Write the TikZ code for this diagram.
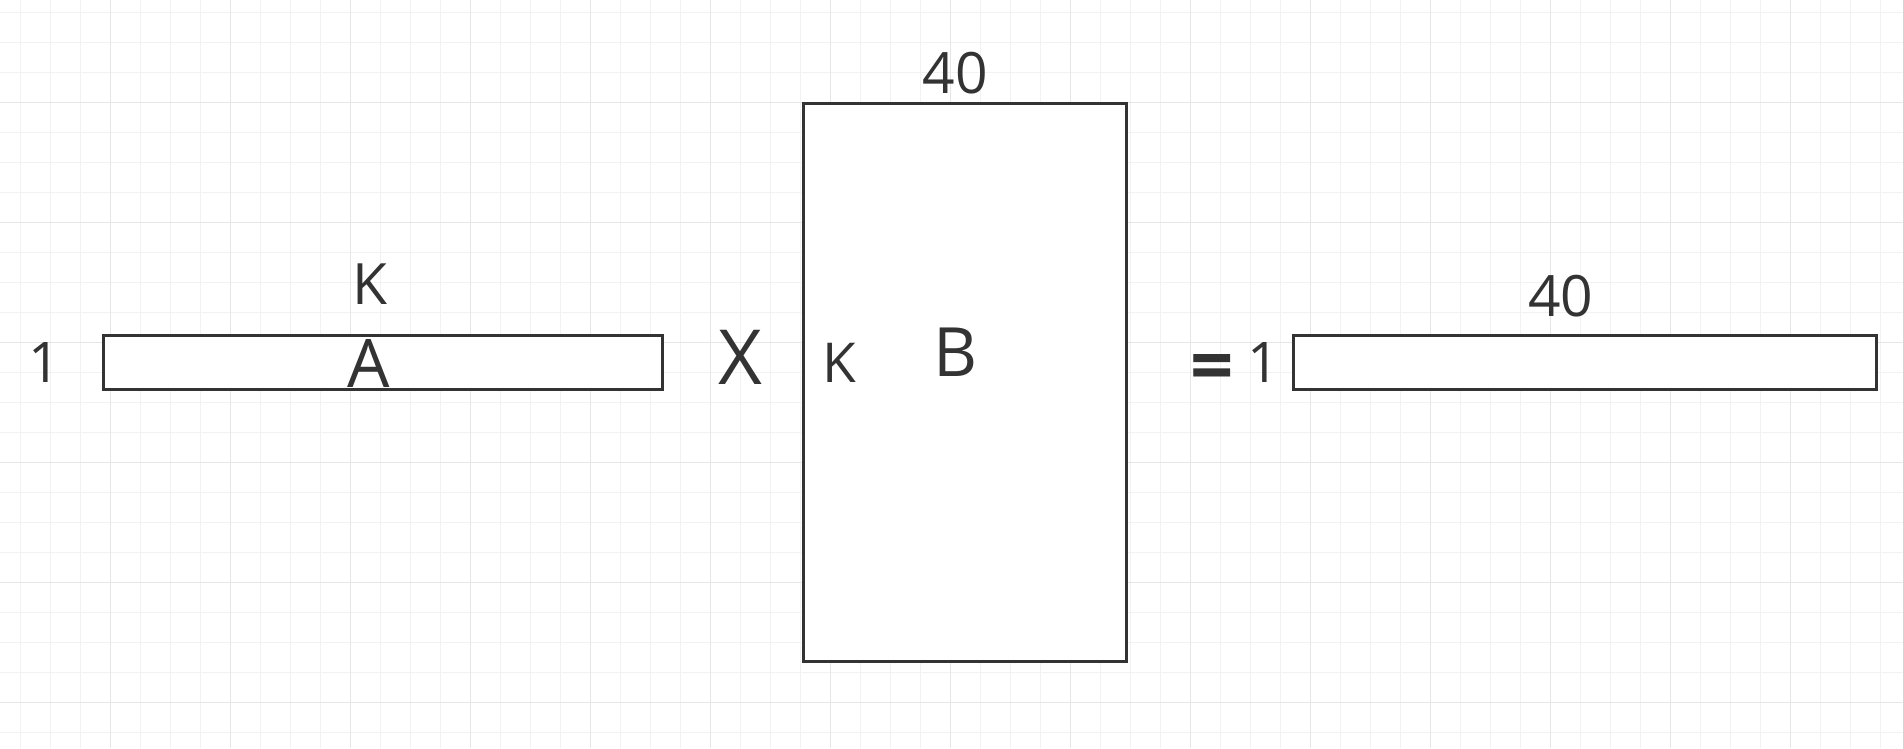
\documentclass[tikz,border=0pt]{standalone}
\usepackage{fontspec}
\setmainfont{Open Sans}
\definecolor{ink}{HTML}{333333}
\definecolor{gridminor}{HTML}{F2F2F2}
\definecolor{gridmajor}{HTML}{E6E6E6}
\tikzset{
  box/.style={draw=ink, line width=3pt, fill=white},
  lbl/.style={text=ink, inner sep=0pt, anchor=center},
}
\newcommand{\fs}[1]{\fontsize{#1}{#1}\selectfont}
\begin{document}
\begin{tikzpicture}[x=1pt,y=-1pt]
\useasboundingbox (0,0) rectangle (1903,748);
\fill[white] (0,0) rectangle (1903,748);
% grid
\foreach \i in {0,...,62} {
  \draw[gridminor, line width=1.2pt] ({20.7+30*\i},0) -- ({20.7+30*\i},748);
}
\foreach \j in {0,...,24} {
  \draw[gridminor, line width=1.2pt] (0,{12.7+30*\j}) -- (1903,{12.7+30*\j});
}
\foreach \i in {0,...,15} {
  \draw[gridmajor, line width=1.5pt] ({110.7+120*\i},0) -- ({110.7+120*\i},748);
}
\foreach \j in {0,...,5} {
  \draw[gridmajor, line width=1.5pt] (0,{102.7+120*\j}) -- (1903,{102.7+120*\j});
}
% boxes
\draw[box] (103.2,335) rectangle (662.6,389.6) node[midway] (boxA) {};
\draw[box] (803.4,103.2) rectangle (1126.2,661.4) node[midway] (boxB) {};
\draw[box] (1293.7,335) rectangle (1876.2,389.6) node[midway] (boxC) {};
% labels
\node[lbl, font=\fs{56}] (oneA) at (45,363) {1};
\node[lbl, font=\fs{57}] (kA) at (370,284) {K};
\node[lbl, font=\fs{67}] (aA) at (369,363) {A};
\node[lbl, font=\fs{76}] (times) at (740,357.5) {X};
\node[lbl, font=\fs{55}] (kB) at (839.5,362.5) {K};
\node[lbl, font=\fs{68}] (bB) at (956,352) {B};
\node[lbl, font=\fs{57}] (fortyB) at (955,73) {40};
\node[lbl, font=\fs{76}\bfseries] (eq) at (1212.5,373) {=};
\node[lbl, font=\fs{56}] (oneC) at (1263,363) {1};
\node[lbl, font=\fs{57}] (fortyC) at (1560.7,296) {40};
\end{tikzpicture}
\end{document}
